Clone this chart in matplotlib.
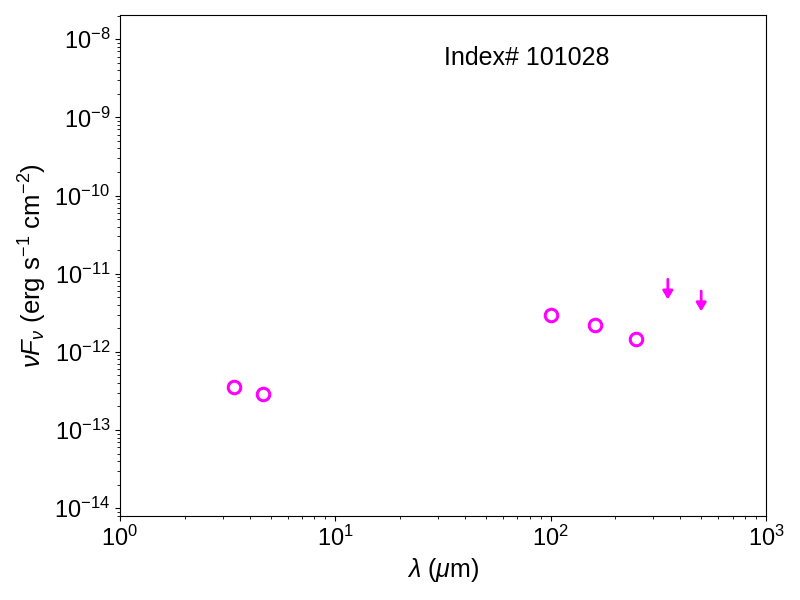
import numpy as np
import matplotlib
matplotlib.use('Agg')
import matplotlib.pyplot as plt

plt.rcParams['font.family'] = ['Liberation Sans', 'DejaVu Sans']
plt.rcParams['mathtext.fontset'] = 'custom'
plt.rcParams['mathtext.rm'] = 'Liberation Sans'
plt.rcParams['mathtext.it'] = 'Liberation Sans:italic'
plt.rcParams['mathtext.bf'] = 'Liberation Sans:bold'

# detections (um, erg/s/cm2)
wave = [3.4, 4.6, 100, 160, 250]
flux = [3.6e-13, 2.9e-13, 2.95e-12, 2.2e-12, 1.45e-12]
# upper limits
wave_ul = [350, 500]
flux_ul = [8.5e-12, 6.0e-12]
ul_drop = 0.55  # arrow end as fraction of limit

fig = plt.figure(figsize=(8, 6), dpi=100)
ax = fig.add_axes([0.15, 0.14, 0.8075, 0.835])
ax.plot(wave, flux, 'o', mfc='none', mec='magenta', ms=9, mew=2.2)
for w, f in zip(wave_ul, flux_ul):
    ax.annotate('', xy=(w, f*ul_drop), xytext=(w, f),
                arrowprops=dict(arrowstyle='-|>,head_width=0.3,head_length=0.5',
                                color='magenta', lw=2, shrinkA=0, shrinkB=0))
ax.set_xscale('log')
ax.set_yscale('log')
ax.set_xlim(1, 1000)
ax.set_ylim(10**-14.1, 10**-7.69)
ax.tick_params(labelsize=17)
ax.set_xlabel(r'$\lambda$ ($\mu$m)', fontsize=18)
ax.set_ylabel(r'$\nu F_\nu$ (erg s$^{-1}$ cm$^{-2}$)', fontsize=18.5)
ax.text(0.63, 0.915, 'Index# 101028', transform=ax.transAxes, fontsize=18,
        ha='center', va='center')
plt.savefig('out.png')
